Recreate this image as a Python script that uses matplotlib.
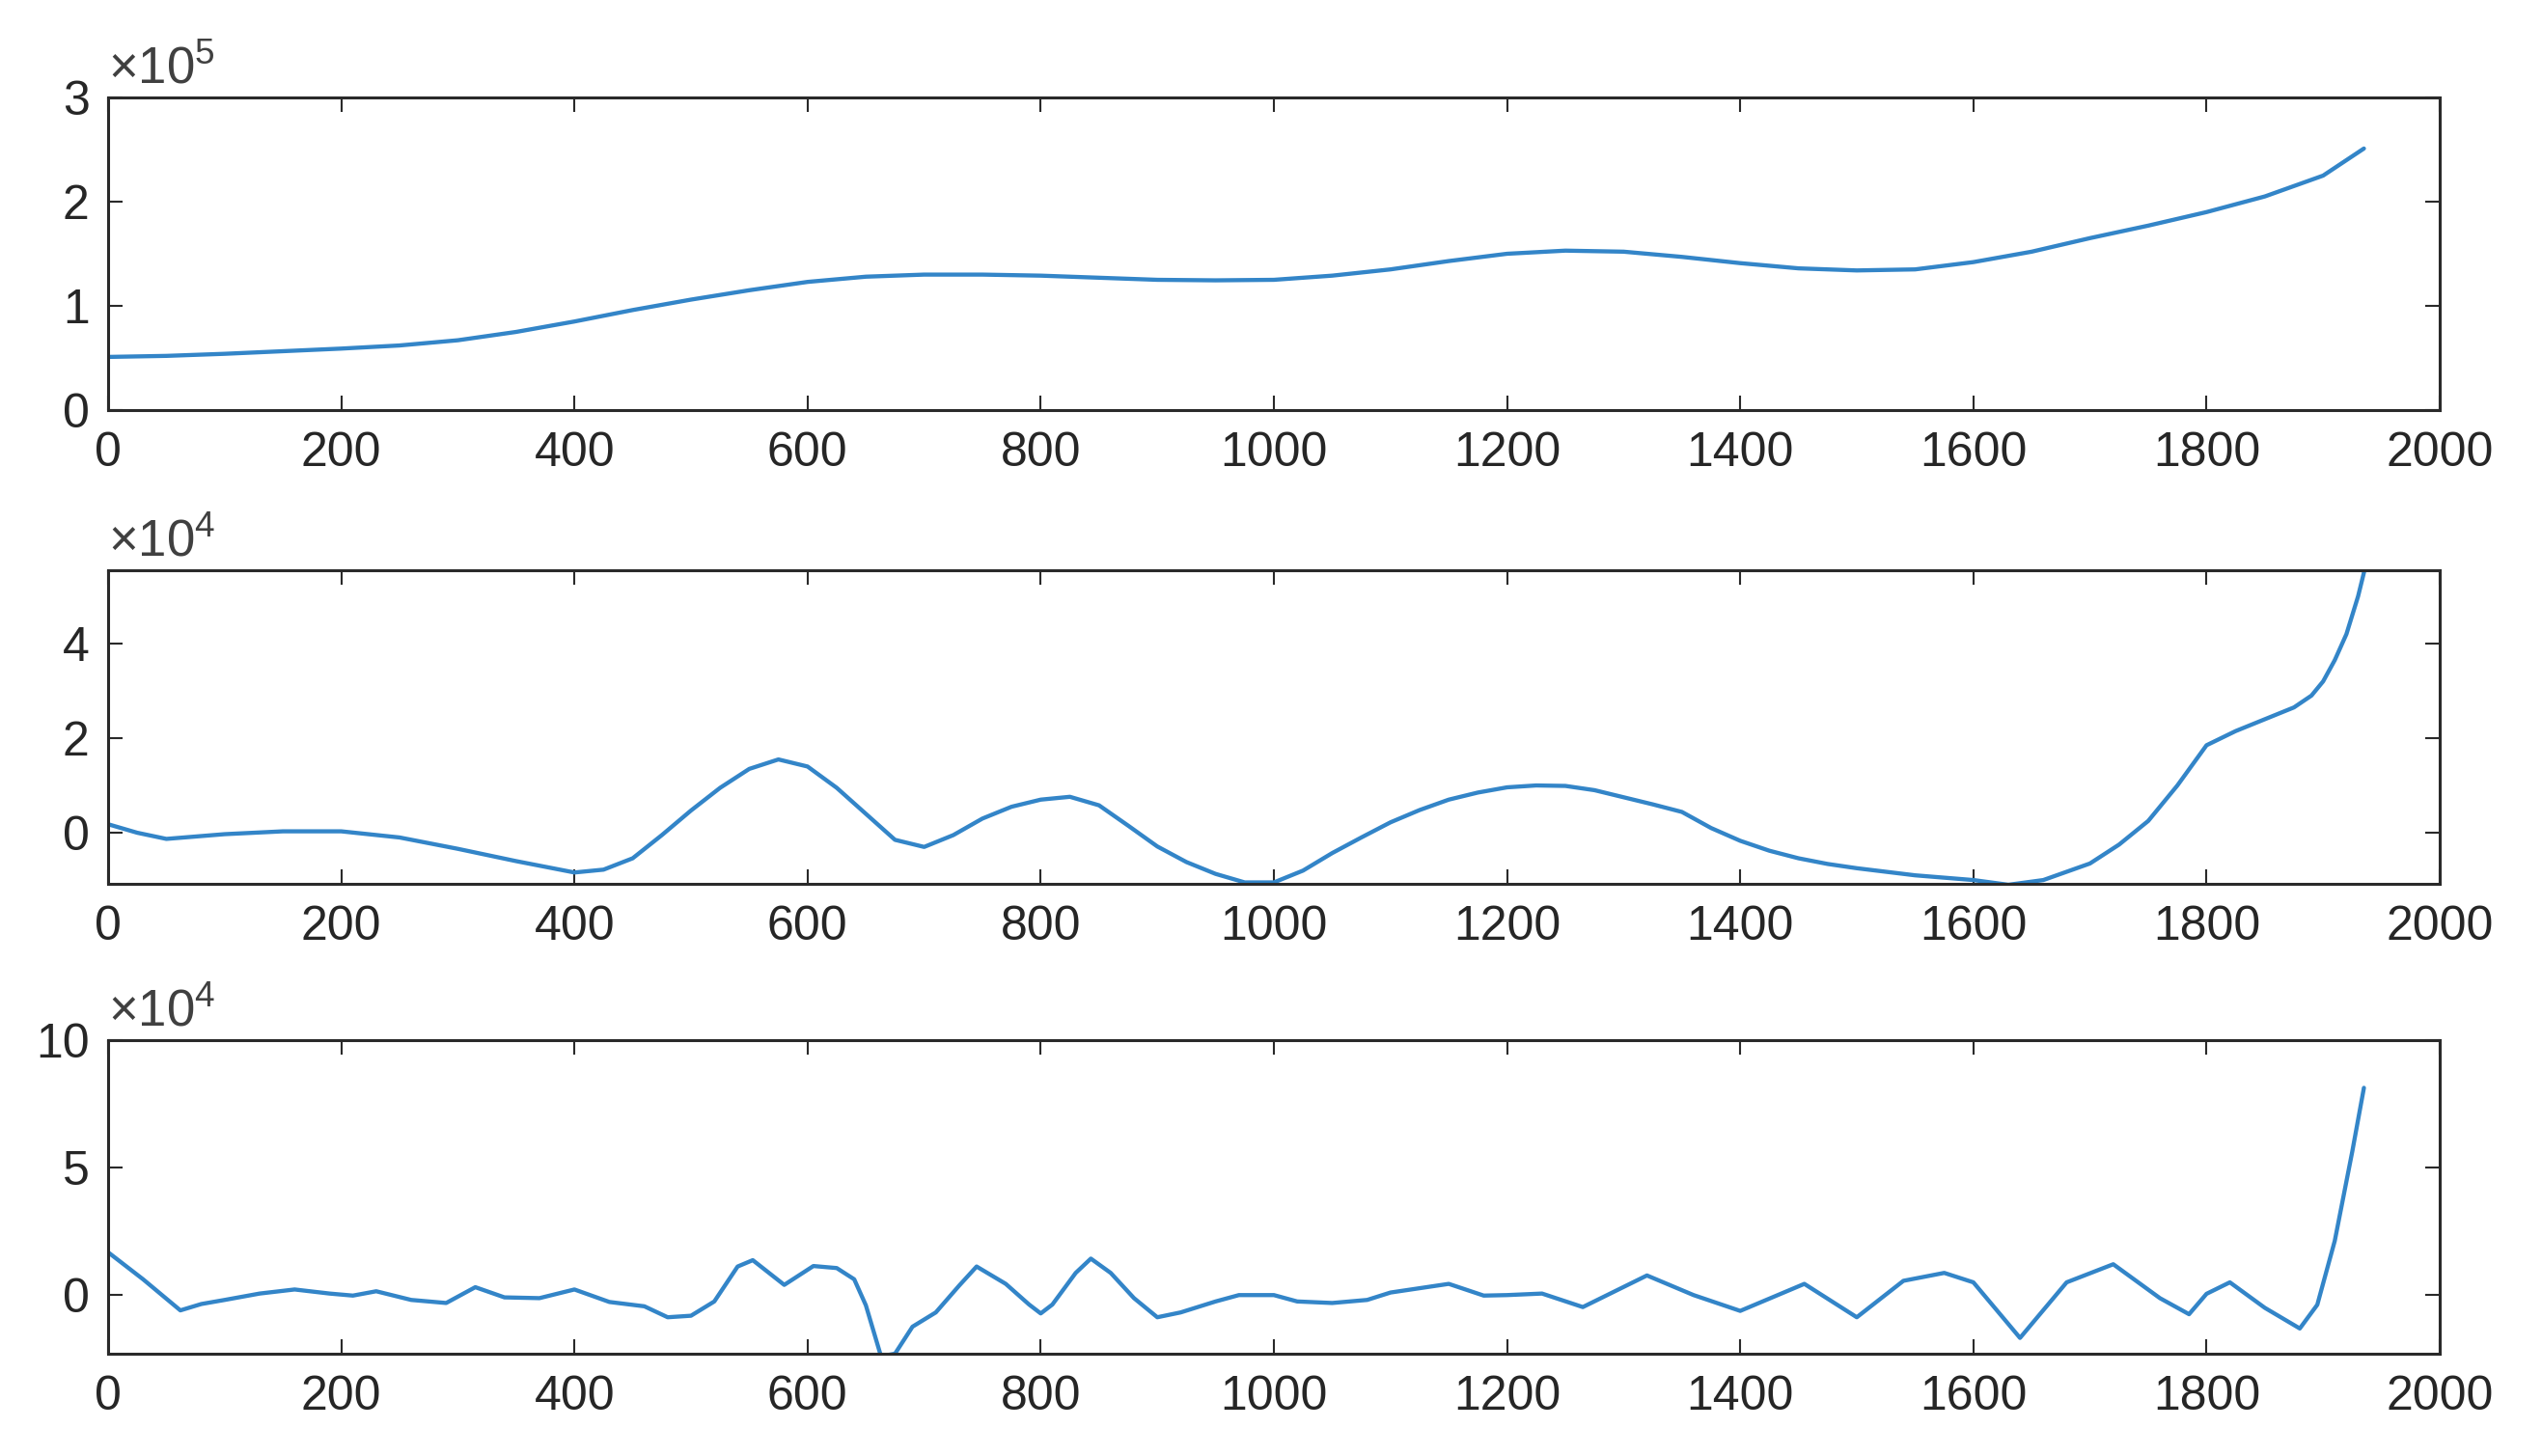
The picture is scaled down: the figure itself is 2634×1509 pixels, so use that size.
import matplotlib
matplotlib.use("Agg")
import matplotlib.pyplot as plt

plt.rcParams['font.family'] = ['Liberation Sans', 'DejaVu Sans']
plt.rcParams['mathtext.fontset'] = 'custom'
plt.rcParams['mathtext.rm'] = 'Liberation Sans'
plt.rcParams['mathtext.it'] = 'Liberation Sans'

# ---- data (panel 1, values x1e5) ----
x1 = [0, 50, 100, 150, 200, 250, 300, 350, 400, 450, 500, 550, 600, 650, 700, 750, 800,
      850, 900, 950, 1000, 1050, 1100, 1150, 1200, 1250, 1300, 1350, 1400, 1450, 1500,
      1550, 1600, 1650, 1700, 1750, 1800, 1850, 1900, 1935]
y1 = [0.51, 0.52, 0.54, 0.565, 0.59, 0.62, 0.67, 0.75, 0.85, 0.96, 1.06, 1.15, 1.23, 1.28,
      1.30, 1.30, 1.29, 1.27, 1.25, 1.245, 1.25, 1.29, 1.35, 1.43, 1.50, 1.53, 1.52, 1.47,
      1.41, 1.36, 1.34, 1.35, 1.42, 1.52, 1.65, 1.77, 1.90, 2.05, 2.25, 2.51]

# ---- data (panel 2, values x1e4) ----
x2 = [0, 25, 50, 75, 100, 150, 200, 250, 300, 350, 400, 425, 450, 475, 500, 525, 550, 575,
      600, 625, 650, 675, 700, 725, 750, 775, 800, 825, 850, 875, 900, 925, 950, 975,
      1000, 1025, 1050, 1075, 1100, 1125, 1150, 1175, 1200, 1225, 1250, 1275, 1300, 1325,
      1350, 1375, 1400, 1425, 1450, 1475, 1500, 1550, 1600, 1630, 1660, 1700, 1725, 1750,
      1775, 1800, 1825, 1850, 1875, 1890, 1900, 1910, 1920, 1930, 1940]
y2 = [0.18, 0.00, -0.13, -0.08, -0.03, 0.03, 0.03, -0.10, -0.34, -0.60, -0.84, -0.78,
      -0.54, -0.05, 0.47, 0.95, 1.35, 1.55, 1.40, 0.95, 0.40, -0.15, -0.30, -0.05, 0.30,
      0.55, 0.70, 0.76, 0.58, 0.15, -0.29, -0.62, -0.87, -1.05, -1.05, -0.80, -0.43, -0.10,
      0.22, 0.48, 0.70, 0.85, 0.96, 1.00, 0.99, 0.90, 0.75, 0.60, 0.44, 0.10, -0.17, -0.38,
      -0.54, -0.66, -0.75, -0.90, -1.00, -1.10, -1.00, -0.65, -0.25, 0.25, 1.00, 1.85,
      2.15, 2.40, 2.65, 2.90, 3.20, 3.65, 4.20, 5.00, 6.00]

# ---- data (panel 3, values x1e4) ----
x3 = [0, 30, 62, 80, 100, 130, 160, 190, 210, 230, 260, 290, 315, 340, 370, 400, 430, 460,
      480, 500, 520, 540, 553, 580, 605, 625, 640, 650, 663, 675, 690, 710, 730, 745, 770,
      790, 800, 810, 830, 843, 860, 880, 900, 920, 950, 970, 1000, 1020, 1050, 1080, 1100,
      1150, 1180, 1200, 1230, 1265, 1320, 1360, 1400, 1455, 1500, 1540, 1575, 1600, 1640,
      1680, 1720, 1760, 1785, 1800, 1820, 1850, 1880, 1895, 1910, 1925, 1935]
y3 = [1.68, 0.62, -0.60, -0.35, -0.19, 0.06, 0.22, 0.06, -0.02, 0.15, -0.19, -0.31, 0.31,
      -0.09, -0.12, 0.22, -0.27, -0.44, -0.87, -0.81, -0.25, 1.12, 1.37, 0.40, 1.14, 1.06,
      0.62, -0.40, -2.40, -2.30, -1.24, -0.68, 0.37, 1.12, 0.44, -0.37, -0.72, -0.37, 0.87,
      1.43, 0.87, -0.12, -0.87, -0.68, -0.25, 0.00, 0.00, -0.25, -0.31, -0.19, 0.10, 0.44,
      -0.02, 0.00, 0.06, -0.47, 0.77, 0.00, -0.62, 0.44, -0.87, 0.56, 0.87, 0.50, -1.68,
      0.50, 1.21, -0.12, -0.75, 0.05, 0.50, -0.50, -1.31, -0.38, 2.13, 5.63, 8.13]

xticks = [0, 200, 400, 600, 800, 1000, 1200, 1400, 1600, 1800, 2000]
panels = [
    (x1, y1, (0, 3), [0, 1, 2, 3], '5'),
    (x2, y2, (-1.08, 5.55), [0, 2, 4], '4'),
    (x3, y3, (-2.3, 10), [0, 5, 10], '4'),
]

W, H = 2634, 1509
fig = plt.figure(figsize=(W / 100, H / 100), dpi=100)
left, right = 112 / W, 2528 / W
tops = [101, 591, 1078]
bots = [425, 916, 1403]

line_color = '#3385c8'
frame_color = '#2a2a2a'
text_color = '#262626'

for (xs, ys, ylim, yt, expo), t, b in zip(panels, tops, bots):
    ax = fig.add_axes([left, 1 - b / H, right - left, (b - t) / H])
    ax.plot(xs, ys, color=line_color, lw=3.1, solid_joinstyle='round',
            solid_capstyle='round')
    ax.set_xlim(0, 2000)
    ax.set_ylim(*ylim)
    ax.set_xticks(xticks)
    ax.set_yticks(yt)
    ax.set_yticklabels([str(v) for v in yt])
    ax.tick_params(direction='in', top=True, right=True, length=11, width=1.5,
                   colors=frame_color, labelcolor=text_color, labelsize=36)
    ax.tick_params(axis='x', pad=16)
    ax.tick_params(axis='y', pad=14)
    for s in ax.spines.values():
        s.set_linewidth(2.2)
        s.set_color(frame_color)
    ax.text(0.0, 1.012, r'$\times10^{%s}$' % expo, transform=ax.transAxes,
            ha='left', va='bottom', fontsize=38, color='#404040')

fig.savefig('out.png', dpi=100, facecolor='white')
